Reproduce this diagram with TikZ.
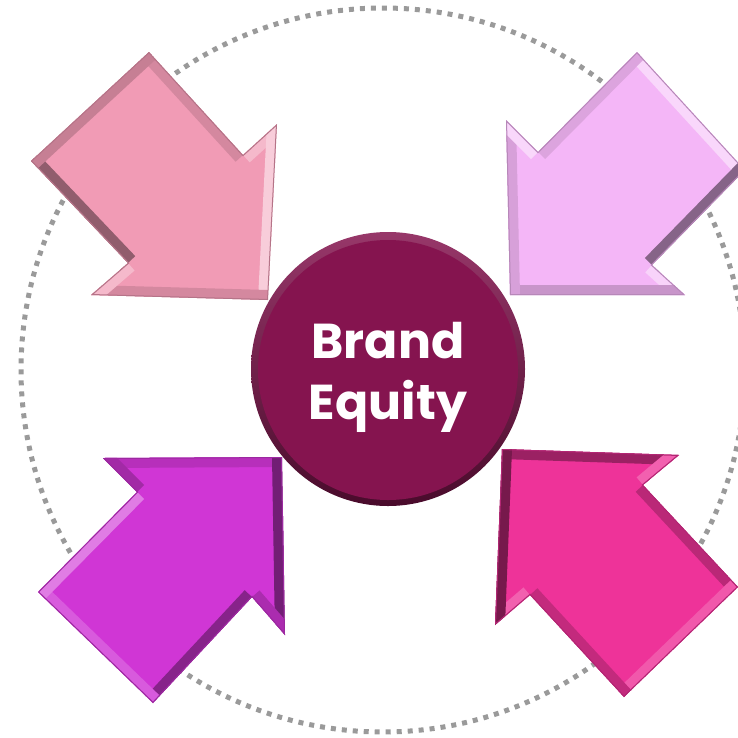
\documentclass[tikz,border=0pt]{standalone}
\usepackage{fontspec}
\setmainfont{Poppins}
\definecolor{dotgray}{HTML}{9A9A9A}
\definecolor{pinkA}{HTML}{F19BB5}
\definecolor{lilacA}{HTML}{F4B6F7}
\definecolor{magA}{HTML}{D036D5}
\definecolor{hotA}{HTML}{EE3399}
\definecolor{maroon}{HTML}{85144F}
\newcommand\bevarrow[9]{%
  \begin{scope}
    \clip (#1-1)--(#1-2)--(#1-3)--(#1-4)--(#1-5)--(#1-6)--(#1-7)--cycle;
    \fill[#2] (#1-1)--(#1-2)--(#1-3)--(#1-4)--(#1-5)--(#1-6)--(#1-7)--cycle;
    \draw[line width=20pt,#3] (#1-1)--(#1-2);
    \draw[line width=20pt,#4] (#1-2)--(#1-3);
    \draw[line width=20pt,#5] (#1-3)--(#1-4);
    \draw[line width=20pt,#6] (#1-4)--(#1-5);
    \draw[line width=20pt,#7] (#1-5)--(#1-6);
    \draw[line width=20pt,#8] (#1-6)--(#1-7);
    \draw[line width=20pt,#9] (#1-7)--(#1-1);
    \draw[line width=2pt,#2!75!black] (#1-1)--(#1-2)--(#1-3)--(#1-4)--(#1-5)--(#1-6)--(#1-7)--cycle;
  \end{scope}}
\begin{document}
\begin{tikzpicture}[x=1pt,y=-1pt]
\useasboundingbox (0,0) rectangle (738,737);
\clip (0,0) rectangle (738,737);
% dotted ring
\coordinate (ringc) at (383,370);
\draw[dotgray,line width=5pt,dash pattern=on 5pt off 6pt] (ringc) circle[radius=362];
% top-left arrow
\coordinate (tl-1) at (149,52);
\coordinate (tl-2) at (243,155);
\coordinate (tl-3) at (277,124);
\coordinate (tl-4) at (268,300);
\coordinate (tl-5) at (91,295);
\coordinate (tl-6) at (128,263);
\coordinate (tl-7) at (31,161);
\bevarrow{tl}{pinkA}{pinkA!88!black}{pinkA!70!white}{pinkA!50!white}{pinkA!88!black}{pinkA!70!white}{pinkA!60!black}{pinkA!82!black}
% top-right arrow
\coordinate (tr-1) at (637,52);
\coordinate (tr-2) at (745,170);
\coordinate (tr-3) at (652,265);
\coordinate (tr-4) at (685,295);
\coordinate (tr-5) at (510,295);
\coordinate (tr-6) at (506,120);
\coordinate (tr-7) at (538,152);
\bevarrow{tr}{lilacA}{lilacA!55!white}{lilacA!55!black}{lilacA!60!white}{lilacA!82!black}{lilacA!88!black}{lilacA!55!white}{lilacA!90!black}
% bottom-left arrow
\coordinate (bl-1) at (103,458);
\coordinate (bl-2) at (282,457);
\coordinate (bl-3) at (285,635);
\coordinate (bl-4) at (252,597);
\coordinate (bl-5) at (153,703);
\coordinate (bl-6) at (38,592);
\coordinate (bl-7) at (137,492);
\bevarrow{bl}{magA}{magA!88!black}{magA!55!black}{magA!82!black}{magA!65!black}{magA!82!white}{magA!65!white}{magA!78!black}
% bottom-right arrow
\coordinate (br-1) at (502,449);
\coordinate (br-2) at (679,455);
\coordinate (br-3) at (643,485);
\coordinate (br-4) at (738,587);
\coordinate (br-5) at (624,697);
\coordinate (br-6) at (530,595);
\coordinate (br-7) at (495,625);
\bevarrow{br}{hotA}{hotA!65!black}{hotA!78!white}{hotA!78!black}{hotA!82!white}{hotA!82!black}{hotA!78!white}{hotA!50!black}
% center disc
\shade[top color=maroon!85!white,bottom color=maroon!55!black] (388,369) circle[radius=137];
\fill[maroon] (388,370) circle[radius=130];
\node[circle,minimum size=256pt,inner sep=0pt,text=white,align=center,
      font=\fontsize{49}{61}\selectfont\bfseries] (center) at (388,377) {Brand\\Equity};
\end{tikzpicture}
\end{document}
